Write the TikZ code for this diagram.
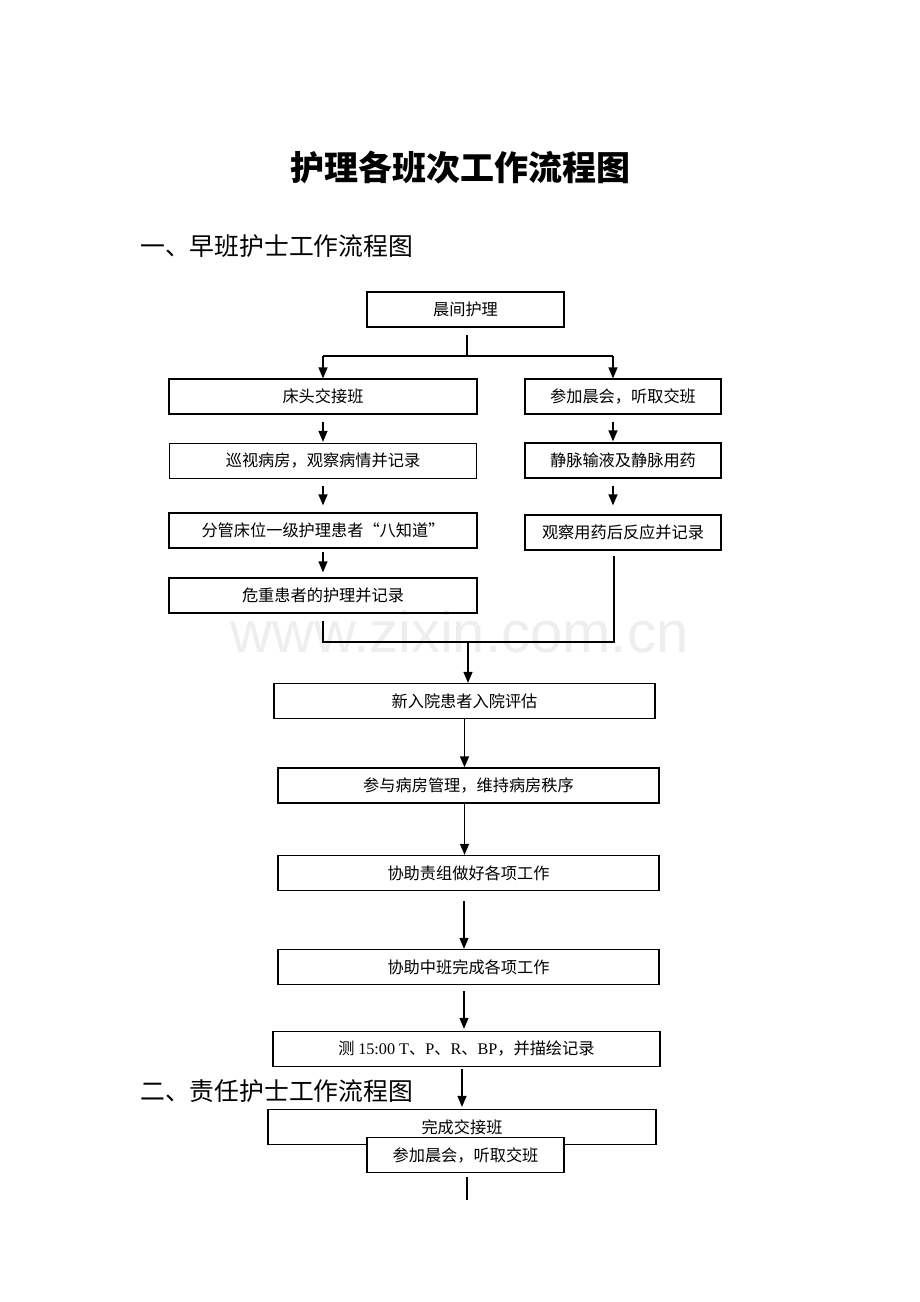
\documentclass[tikz,border=0pt]{standalone}
\usepackage{fontspec}
\setmainfont{Liberation Serif}
\newfontfamily\cjk{Noto Sans CJK SC}
\newfontfamily\wmfont{Liberation Sans}
\usetikzlibrary{arrows.meta}
\tikzset{
  flowbox/.style={draw, line width=1.3pt, inner sep=0pt,
    minimum height=35pt, font=\cjk\fontsize{16.2}{16}\selectfont},
  flowline/.style={line width=1.3pt},
  flowarrow/.style={flowline, -{Triangle[length=11pt,width=9pt]}},
  heading/.style={anchor=west, inner sep=0pt, font=\cjk\fontsize{24.8}{25}\selectfont}
}

\begin{document}
\begin{tikzpicture}[x=1pt, y=-1pt]
\useasboundingbox (0,0) rectangle (920,1302);
% watermark
\node[anchor=base, inner sep=0pt, text=gray!13, font=\wmfont\fontsize{58}{58}\selectfont]
  (mark) at (459.5,652) {www.zixin.com.cn};
% titles
\node[inner sep=0pt, font=\cjk\bfseries\fontsize{34}{34}\selectfont] (title) at (460,168) {护理各班次工作流程图};
\node[heading] (sec1) at (140,246) {一、早班护士工作流程图};
\node[heading] (sec2) at (140,1091) {二、责任护士工作流程图};
% boxes
\node[flowbox, minimum width=197pt] (chenjian) at (465.5,309.5) {晨间护理};
\node[flowbox, minimum width=308pt] (chuangtou) at (323,396.5) {床头交接班};
\node[flowbox, minimum width=307pt] (xunshi) at (323,461) {巡视病房，观察病情并记录};
\node[flowbox, minimum width=308pt] (fenguan) at (323,530.5) {分管床位一级护理患者“八知道”};
\node[flowbox, minimum width=308pt] (weizhong) at (323,595.5) {危重患者的护理并记录};
\node[flowbox, minimum width=196pt] (chenhui) at (623,396.5) {参加晨会，听取交班};
\node[flowbox, minimum width=196pt] (jingmai) at (623,460.5) {静脉输液及静脉用药};
\node[flowbox, minimum width=196pt] (guancha) at (623,532.5) {观察用药后反应并记录};
\node[flowbox, minimum width=381pt] (xinruyuan) at (464.5,701) {新入院患者入院评估};
\node[flowbox, minimum width=381pt] (bingfang) at (468.5,785.5) {参与病房管理，维持病房秩序};
\node[flowbox, minimum width=381pt] (zeizu) at (468.5,873) {协助责组做好各项工作};
\node[flowbox, minimum width=381pt] (zhongban) at (468.5,967) {协助中班完成各项工作};
\node[flowbox, minimum width=387pt] (celiang) at (466.5,1049)
  {测 {\rmfamily 15:00 T}、{\rmfamily P}、{\rmfamily R}、{\rmfamily BP}，并描绘记录};
\node[flowbox, minimum width=388pt] (wancheng) at (462,1127) {完成交接班};
\node[flowbox, minimum width=197pt, fill=white] (chenhui2) at (465.5,1155) {参加晨会，听取交班};
% fork below the first box
\coordinate (fork) at (467,356);
\coordinate (forkL) at (323,356);
\coordinate (forkR) at (613,356);
\draw[flowline] ([yshift=-7pt]chenjian.south -| fork) -- (fork);
\draw[flowline] (forkL) -- (forkR);
\draw[flowarrow] (forkL) -- (forkL |- chuangtou.north);
\draw[flowarrow] (forkR) -- (forkR |- chenhui.north);
% left column
\draw[flowarrow] ([yshift=-7pt]chuangtou.south) -- ([yshift=1pt]xunshi.north);
\draw[flowarrow] ([yshift=-7pt]xunshi.south) -- ([yshift=7pt]fenguan.north);
\draw[flowarrow] ([yshift=-3pt]fenguan.south) -- ([yshift=5pt]weizhong.north);
% right column
\draw[flowarrow] ([yshift=-7pt]chenhui.south -| forkR) -- ([yshift=1pt]jingmai.north -| forkR);
\draw[flowarrow] ([yshift=-7pt]jingmai.south -| forkR) -- ([yshift=9pt]guancha.north -| forkR);
% join of both columns
\coordinate (joinL) at (323,642);
\coordinate (joinR) at (614,642);
\coordinate (join) at (468,642);
\draw[flowline] ([yshift=-7pt]weizhong.south) -- (joinL) -- (joinR) -- ([yshift=-5pt]guancha.south -| joinR);
\draw[flowarrow] (join) -- (join |- xinruyuan.north);
% main column
\draw[flowarrow] (xinruyuan.south) -- (xinruyuan.south |- bingfang.north);
\draw[flowarrow] (bingfang.south -| xinruyuan.south) -- (xinruyuan.south |- zeizu.north);
\draw[flowarrow] ([yshift=-10pt]zeizu.south -| 464,0) -- (464,0 |- zhongban.north);
\draw[flowarrow] ([yshift=-6pt]zhongban.south -| 464,0) -- ([yshift=2pt]464,0 |- celiang.north);
\draw[flowarrow] ([yshift=-2pt]celiang.south -| wancheng.north) -- ([yshift=2pt]wancheng.north);
% tail below the last box
\coordinate (tail) at (467,1200);
\draw[flowline] ([yshift=-4pt]chenhui2.south -| tail) -- (tail);
\end{tikzpicture}
\end{document}
